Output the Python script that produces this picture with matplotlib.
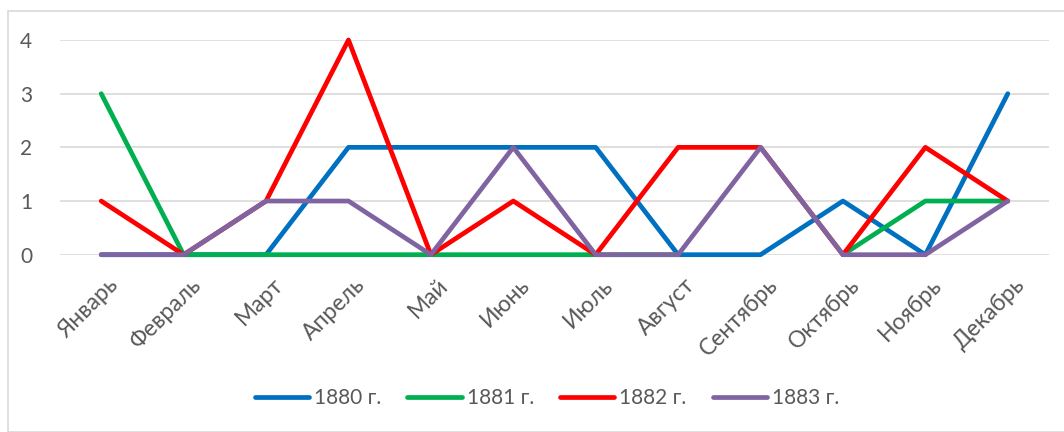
import numpy as np
import matplotlib.pyplot as plt
import matplotlib.transforms as mtransforms
from matplotlib.patches import Rectangle

months = ["Январь", "Февраль", "Март", "Апрель", "Май", "Июнь",
          "Июль", "Август", "Сентябрь", "Октябрь", "Ноябрь", "Декабрь"]
y1880 = [0, 0, 0, 2, 2, 2, 2, 0, 0, 1, 0, 3]
y1881 = [3, 0, 0, 0, 0, 0, 0, 0, np.nan, 0, 1, 1]
y1882 = [1, 0, 1, 4, 0, 1, 0, 2, 2, 0, 2, 1]
y1883 = [0, 0, 1, 1, 0, 2, 0, 0, 2, 0, 0, 1]
series = [("1880 г.", y1880, "#0070C0"),
          ("1881 г.", y1881, "#00B050"),
          ("1882 г.", y1882, "#FF0000"),
          ("1883 г.", y1883, "#8064A2")]

plt.rcParams['font.family'] = ['Lato', 'DejaVu Sans']

W, H = 1064, 432
fig = plt.figure(figsize=(W / 100, H / 100), dpi=100)
fig.patches.append(Rectangle((8 / W, 0), 1.2, 1 - 11 / H, transform=fig.transFigure,
                             fill=False, edgecolor="#D9D9D9", linewidth=1.2))
ax = fig.add_axes([60 / W, (H - 254.7) / H, 989 / W, 214.7 / H])

x = np.arange(len(months))
for label, vals, color in series:
    ax.plot(x, vals, color=color, linewidth=3.4, label=label,
            solid_capstyle="round", solid_joinstyle="round", clip_on=False, zorder=3)

ax.set_xlim(-0.5, 11.5)
ax.set_ylim(0, 4)
ax.set_yticks([0, 1, 2, 3, 4])
ax.yaxis.grid(True, color="#D9D9D9", linewidth=1.2)
ax.set_axisbelow(True)
for s in ax.spines.values():
    s.set_visible(False)
ax.tick_params(axis="both", length=0, colors="#595959", labelsize=15)
ax.tick_params(axis="y", pad=20)
ax.set_xticks(x)
ax.set_xticklabels(months, rotation=45, ha="right", rotation_mode="anchor", fontsize=16.5)
ax.tick_params(axis="x", pad=14)
shift = mtransforms.ScaledTranslation(6 / 100, 0, fig.dpi_scale_trans)
for lbl in ax.get_xticklabels():
    lbl.set_transform(lbl.get_transform() + shift)

leg = fig.legend(loc="center", bbox_to_anchor=(547 / W, 1 - 398 / H), ncol=4,
                 frameon=False, fontsize=15, handlelength=2.6, columnspacing=1.25,
                 handletextpad=0.25, labelcolor="#595959")

fig.savefig("out.png", dpi=100)
